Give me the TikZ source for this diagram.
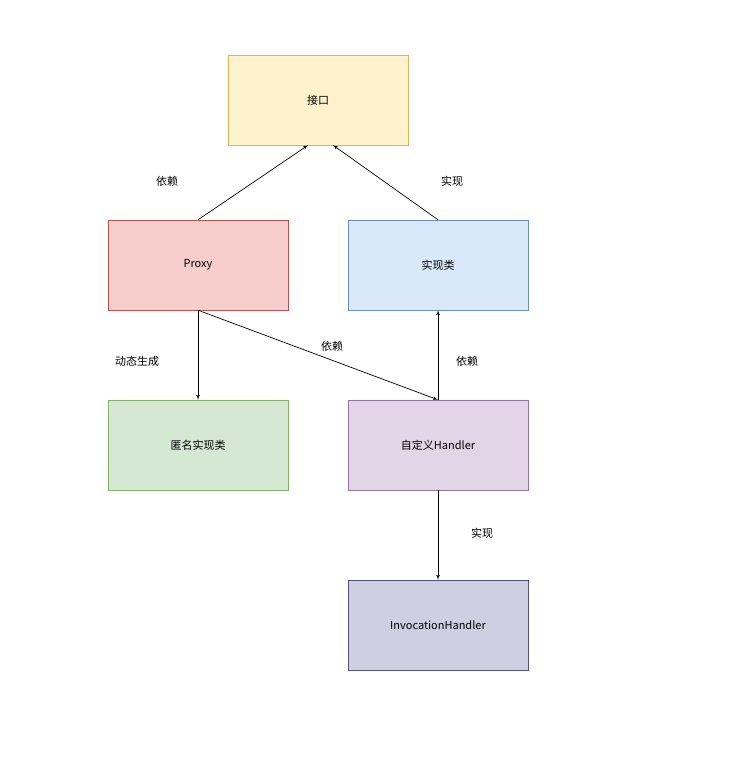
\documentclass[tikz,border=0pt]{standalone}
\usepackage{fontspec}
\setmainfont{Noto Sans CJK SC}
\usetikzlibrary{arrows,positioning}
\tikzstyle{line} = [draw, -latex', line width=.7pt, fill=none]
\definecolor{ifill}{HTML}{FFF2CC}\definecolor{idraw}{HTML}{D6B656}
\definecolor{pfill}{HTML}{F8CECC}\definecolor{pdraw}{HTML}{B85450}
\definecolor{bfill}{HTML}{DAE8FC}\definecolor{bdraw}{HTML}{6C8EBF}
\definecolor{gfill}{HTML}{D5E8D4}\definecolor{gdraw}{HTML}{82B366}
\definecolor{hfill}{HTML}{E1D5E7}\definecolor{hdraw}{HTML}{9673A6}
\definecolor{vfill}{HTML}{D0CEE2}\definecolor{vdraw}{HTML}{56517E}
\begin{document}
\begin{tikzpicture}[
    x=1pt, y=-1pt,
    block/.style={
      draw,
      minimum width=180pt,
      minimum height=90pt,
      align=center,
      font=\fontsize{11}{13}\selectfont
    },
    lbl/.style={font=\fontsize{11}{13}\selectfont}
  ]
  \useasboundingbox[fill=white] (0,0) rectangle (735,776);

  \node[block,fill=ifill,draw=idraw] (iface) at (318,100) {接口};
  \node[block,fill=pfill,draw=pdraw] (proxy) at (198,265) {Proxy};
  \node[block,fill=bfill,draw=bdraw] (impl) at (438,265) {实现类};
  \node[block,fill=gfill,draw=gdraw] (anon) at (198,445) {匿名实现类};
  \node[block,fill=hfill,draw=hdraw] (handler) at (438,445) {自定义Handler};
  \node[block,fill=vfill,draw=vdraw] (invoc) at (438,625) {InvocationHandler};

  \draw[line] (proxy.north) -- ([xshift=-10pt]iface.south);
  \draw[line] (impl.north) -- ([xshift=15pt]iface.south);
  \draw[line] (proxy.south) -- (anon.north);
  \draw[line] (proxy.south) -- (handler.north);
  \draw[line] (handler.north) -- (impl.south);
  \draw[line] (handler.south) -- (invoc.north);

  \node[lbl] (l1) at (167,181) {依赖};
  \node[lbl] (l2) at (452,181) {实现};
  \node[lbl] (l3) at (137,361) {动态生成};
  \node[lbl] (l4) at (332,346) {依赖};
  \node[lbl] (l5) at (467,361) {依赖};
  \node[lbl] (l6) at (482,533) {实现};
\end{tikzpicture}
\end{document}
